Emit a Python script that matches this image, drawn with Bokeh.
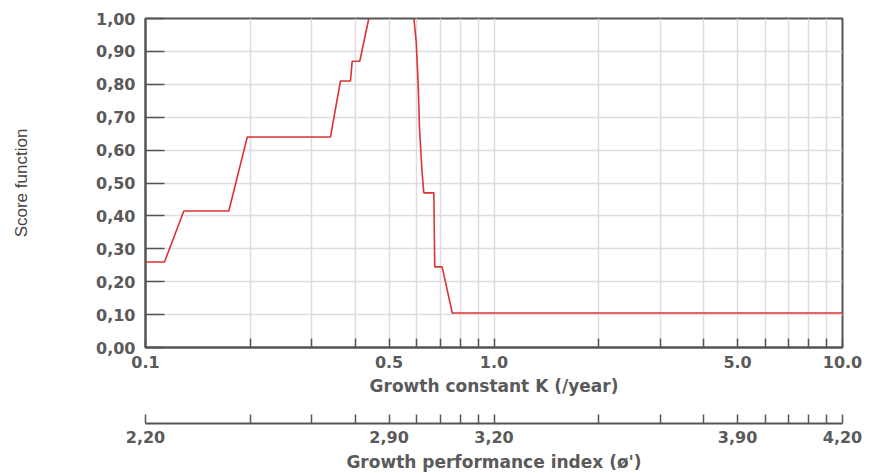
from bokeh.plotting import figure
from bokeh.layouts import column
from bokeh.models import FixedTicker, Range1d
from bokeh.embed import file_html
from bokeh.resources import INLINE

# ---- data ----
k_rise = [0.1, 0.1134, 0.1288, 0.1734, 0.1959, 0.3395, 0.3626, 0.3874, 0.3918, 0.4120, 0.4372]
s_rise = [0.26, 0.26, 0.415, 0.415, 0.64, 0.64, 0.81, 0.81, 0.87, 0.87, 1.0]
k_fall = [0.589, 0.598, 0.606, 0.611, 0.622, 0.629, 0.672, 0.676, 0.710, 0.759, 10.0]
s_fall = [1.0, 0.93, 0.80, 0.67, 0.53, 0.47, 0.47, 0.245, 0.245, 0.105, 0.105]

k_ticks = [0.1, 0.2, 0.3, 0.4, 0.5, 0.6, 0.7, 0.8, 0.9, 1.0,
           2.0, 3.0, 4.0, 5.0, 6.0, 7.0, 8.0, 9.0, 10.0]
k_label_pos = [0.1, 0.5, 1.0, 5.0, 10.0]
k_labels = ["0.1", "0.5", "1.0", "5.0", "10.0"]
phi_labels = ["2,20", "2,90", "3,20", "3,90", "4,20"]
y_ticks = [0.0, 0.1, 0.2, 0.3, 0.4, 0.5, 0.6, 0.7, 0.8, 0.9, 1.0]
y_labels = ["0,00", "0,10", "0,20", "0,30", "0,40", "0,50",
            "0,60", "0,70", "0,80", "0,90", "1,00"]

FONT = "DejaVu Sans"
TXT = "#5a5a5a"
AX = "#555555"

x_range = Range1d(0.1, 10)

p = figure(x_axis_type="log", x_range=x_range, y_range=Range1d(0, 1),
           frame_width=697, frame_height=329,
           min_border_left=145, min_border_right=27,
           min_border_top=18, min_border_bottom=66,
           output_backend="svg", toolbar_location=None)

p.line(k_rise, s_rise, line_color="#dd3333", line_width=1.6)
p.line(k_fall, s_fall, line_color="#dd3333", line_width=1.6)

p.outline_line_color = AX
p.outline_line_width = 2

# x axis
xa = p.xaxis[0]
xa.ticker = FixedTicker(ticks=k_ticks, minor_ticks=[])
ov = {t: "" for t in k_ticks}
for t, l in zip(k_label_pos, k_labels):
    ov[t] = l
xa.major_label_overrides = ov
xa.major_tick_in = 9
xa.major_tick_out = 0
xa.major_tick_line_color = AX
xa.major_tick_line_width = 1.5
xa.axis_line_color = AX
xa.axis_line_width = 2
xa.major_label_standoff = 8
xa.major_label_text_font = FONT
xa.major_label_text_font_style = "bold"
xa.major_label_text_font_size = "16px"
xa.major_label_text_color = TXT
xa.axis_label = "Growth constant K (/year)"
xa.axis_label_text_font = FONT
xa.axis_label_text_font_style = "bold"
xa.axis_label_text_font_size = "17px"
xa.axis_label_text_color = TXT
xa.axis_label_standoff = 5

# y axis
ya = p.yaxis[0]
ya.ticker = FixedTicker(ticks=y_ticks, minor_ticks=[])
ya.major_label_overrides = dict(zip(y_ticks, y_labels))
ya.major_tick_in = 19
ya.major_tick_out = 0
ya.major_tick_line_color = AX
ya.major_tick_line_width = 1.5
ya.axis_line_color = AX
ya.axis_line_width = 2
ya.major_label_standoff = 10
ya.major_label_text_font = FONT
ya.major_label_text_font_style = "bold"
ya.major_label_text_font_size = "16px"
ya.major_label_text_color = TXT
ya.axis_label = "Score function"
ya.axis_label_text_font = "Liberation Sans"
ya.axis_label_text_font_style = "normal"
ya.axis_label_text_font_size = "17px"
ya.axis_label_text_color = "#444444"
ya.axis_label_standoff = 62

p.xgrid.grid_line_color = "#dddddd"
p.xgrid.grid_line_width = 1.5
p.ygrid.grid_line_color = "#dddddd"
p.ygrid.grid_line_width = 1.5

# second axis: growth performance index
p2 = figure(x_axis_type="log", x_range=x_range, y_range=Range1d(0, 1),
            frame_width=697, frame_height=10,
            min_border_left=145, min_border_right=27,
            min_border_top=0, min_border_bottom=46,
            y_axis_location=None,
            output_backend="svg", toolbar_location=None)
p2.outline_line_color = None
p2.grid.visible = False
xb = p2.xaxis[0]
xb.ticker = FixedTicker(ticks=k_ticks, minor_ticks=[])
ov2 = {t: "" for t in k_ticks}
for t, l in zip(k_label_pos, phi_labels):
    ov2[t] = l
xb.major_label_overrides = ov2
xb.major_tick_in = 9
xb.major_tick_out = 0
xb.major_tick_line_color = AX
xb.major_tick_line_width = 1.5
xb.axis_line_color = AX
xb.axis_line_width = 2
xb.major_label_standoff = 7
xb.major_label_text_font = FONT
xb.major_label_text_font_style = "bold"
xb.major_label_text_font_size = "16px"
xb.major_label_text_color = TXT
xb.axis_label = "Growth performance index (ø')"
xb.axis_label_text_font = FONT
xb.axis_label_text_font_style = "bold"
xb.axis_label_text_font_size = "17px"
xb.axis_label_text_color = TXT
xb.axis_label_standoff = 6

layout = column(p, p2, spacing=0)
open("out.html", "w").write(file_html(layout, INLINE))
